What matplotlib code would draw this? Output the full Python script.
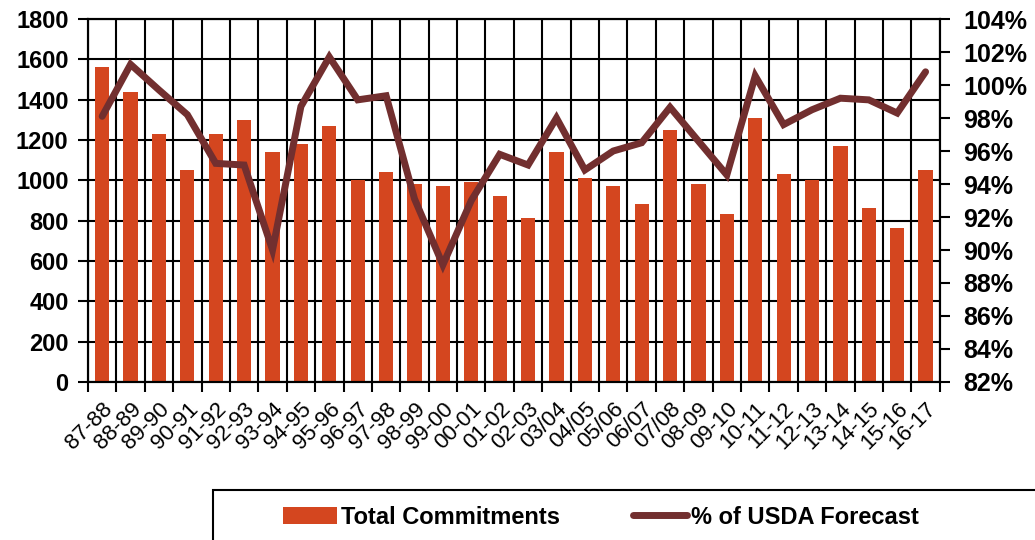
import matplotlib.pyplot as plt
from matplotlib.patches import Rectangle
import numpy as np

plt.rcParams['font.family'] = ['Liberation Sans', 'DejaVu Sans']

seasons = ['87-88', '88-89', '89-90', '90-91', '91-92', '92-93', '93-94', '94-95',
           '95-96', '96-97', '97-98', '98-99', '99-00', '00-01', '01-02', '02-03',
           '03/04', '04/05', '05/06', '06/07', '07/08', '08-09', '09-10', '10-11',
           '11-12', '12-13', '13-14', '14-15', '15-16', '16-17']
commitments = [1563, 1436, 1228, 1050, 1228, 1298, 1139, 1179, 1268, 1000,
               1040, 980, 970, 990, 921, 812, 1139, 1010, 970, 881,
               1248, 980, 832, 1308, 1030, 1000, 1169, 861, 762, 1050]
pct_usda = [98.1, 101.25, 99.7, 98.2, 95.25, 95.15, 90.0, 98.7, 101.7, 99.1,
            99.35, 93.1, 89.1, 93.0, 95.8, 95.15, 98.0, 94.85, 96.0, 96.5,
            98.65, 96.6, 94.55, 100.55, 97.6, 98.5, 99.2, 99.1, 98.3, 100.8]

bar_color = '#D4461F'
line_color = '#722F2F'

fig = plt.figure(figsize=(10.35, 5.4), dpi=100)
ax = fig.add_axes([0.085, 0.2926, 0.823, 0.6722])
x = np.arange(len(seasons))

ax.bar(x, commitments, width=0.5, color=bar_color, zorder=2, label='Total Commitments')
ax.set_xlim(-0.5, len(seasons) - 0.5)
ax.set_ylim(0, 1800)
ax.set_yticks(range(0, 1801, 200))
ax.set_xticks(x)
ax.set_xticklabels(seasons, rotation=45, ha='right', rotation_mode='anchor', fontsize=16)
ax.set_xticks(np.arange(-0.5, len(seasons)), minor=True)
ax.tick_params(axis='x', which='major', length=0, pad=12)
ax.tick_params(axis='x', which='minor', length=7, width=1.5, direction='out')
ax.tick_params(axis='y', length=7, width=1.5, labelsize=17, pad=7)
for lab in ax.get_yticklabels():
    lab.set_fontweight('bold')
ax.grid(True, which='minor', axis='x', color='black', linewidth=1.5, zorder=0)
ax.grid(True, which='major', axis='y', color='black', linewidth=1.5, zorder=0)
ax.set_axisbelow(True)
for s in ax.spines.values():
    s.set_linewidth(1.5)

ax2 = ax.twinx()
ax2.plot(x, pct_usda, color=line_color, linewidth=5, solid_capstyle='round',
         solid_joinstyle='miter', zorder=3, label='% of USDA Forecast')
ax2.set_ylim(82, 104)
ax2.set_yticks(range(82, 105, 2))
ax2.set_yticklabels([f'{v}%' for v in range(82, 105, 2)])
ax2.tick_params(axis='y', length=7, width=1.5, labelsize=18, pad=10)
for lab in ax2.get_yticklabels():
    lab.set_fontweight('bold')
for s in ax2.spines.values():
    s.set_linewidth(1.5)

# legend box runs off the right and bottom edges
fig.patches.append(Rectangle((213 / 1035, -0.05), 0.9, 0.05 + 50 / 540,
                             transform=fig.transFigure, fill=False,
                             edgecolor='black', linewidth=1.5))
h1, l1 = ax.get_legend_handles_labels()
h2, l2 = ax2.get_legend_handles_labels()
fig.legend(h1 + h2, l1 + l2, loc='center left', bbox_to_anchor=(283 / 1035, 1 - 517 / 540),
           ncol=2, frameon=False, prop={'weight': 'bold', 'size': 17},
           handlelength=2.3, handletextpad=0.15, columnspacing=3.1,
           borderpad=0, borderaxespad=0)

fig.savefig('out.png', dpi=100)
